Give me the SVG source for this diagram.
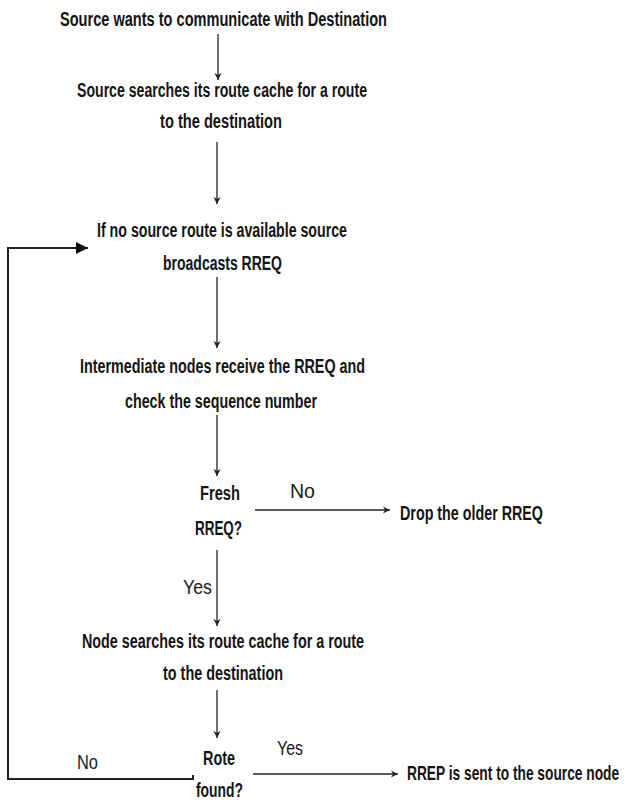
<svg xmlns="http://www.w3.org/2000/svg" width="626" height="801" viewBox="0 0 626 801">
<style>
text{font-family:"Liberation Sans",Arial,sans-serif;font-size:20px;font-weight:bold;fill:#141414}
text.lbl{font-weight:normal;font-size:21px;fill:#1a1a1a}
.c{stroke:#222;stroke-width:1.3;fill:none}
.loop{stroke:#222;stroke-width:2;fill:none}
</style>
<defs>
<marker id="a" viewBox="0 0 10 10" refX="10" refY="5" markerWidth="7" markerHeight="8" markerUnits="userSpaceOnUse" orient="auto">
<path d="M0,0 L10,5 L0,10 L3,5 Z" fill="#222"/>
</marker>
<marker id="b" viewBox="0 0 10 10" refX="10" refY="5" markerWidth="12" markerHeight="12" markerUnits="userSpaceOnUse" orient="auto">
<path d="M0,0 L10,5 L0,10 Z" fill="#111"/>
</marker>
</defs>
<rect width="626" height="801" fill="#fff"/>
<g id="connectors">
<line class="c" x1="218" y1="34" x2="218" y2="80" marker-end="url(#a)"/>
<line class="c" x1="217" y1="142" x2="217" y2="204" marker-end="url(#a)"/>
<line class="c" x1="217" y1="277" x2="217" y2="348" marker-end="url(#a)"/>
<line class="c" x1="217" y1="415" x2="217" y2="476" marker-end="url(#a)"/>
<line class="c" x1="255" y1="510" x2="390" y2="510" marker-end="url(#a)"/>
<line class="c" x1="217" y1="550" x2="217" y2="626" marker-end="url(#a)"/>
<line class="c" x1="217" y1="690" x2="217" y2="738" marker-end="url(#a)"/>
<line class="c" x1="253" y1="774" x2="398" y2="774" marker-end="url(#a)"/>
<polyline class="loop" points="193,775 193,779 8,779 8,248 88,248" marker-end="url(#b)"/>
</g>
<g id="n1"><text x="60" y="26" textLength="327" lengthAdjust="spacingAndGlyphs">Source wants to communicate with Destination</text></g>
<g id="n2"><text x="77" y="97" textLength="290" lengthAdjust="spacingAndGlyphs">Source searches its route cache for a route</text>
<text x="160" y="128" textLength="122" lengthAdjust="spacingAndGlyphs">to the destination</text></g>
<g id="n3"><text x="97" y="237" textLength="250" lengthAdjust="spacingAndGlyphs">If no source route is available source</text>
<text x="163" y="270" textLength="119" lengthAdjust="spacingAndGlyphs">broadcasts RREQ</text></g>
<g id="n4"><text x="80" y="373" textLength="285" lengthAdjust="spacingAndGlyphs">Intermediate nodes receive the RREQ and</text>
<text x="125" y="408" textLength="192" lengthAdjust="spacingAndGlyphs">check the sequence number</text></g>
<g id="n5"><text x="200" y="500" textLength="40" lengthAdjust="spacingAndGlyphs">Fresh</text>
<text x="195" y="535" textLength="47" lengthAdjust="spacingAndGlyphs">RREQ?</text></g>
<g id="n6"><text x="400" y="520" textLength="143" lengthAdjust="spacingAndGlyphs">Drop the older RREQ</text></g>
<g id="n7"><text x="82" y="648" textLength="282" lengthAdjust="spacingAndGlyphs">Node searches its route cache for a route</text>
<text x="163" y="680" textLength="120" lengthAdjust="spacingAndGlyphs">to the destination</text></g>
<g id="n8"><text x="203" y="765" textLength="32" lengthAdjust="spacingAndGlyphs">Rote</text>
<text x="196" y="797" textLength="47" lengthAdjust="spacingAndGlyphs">found?</text></g>
<g id="n9"><text transform="translate(407,780) scale(0.7,1)" x="0" y="0" textLength="303" lengthAdjust="spacingAndGlyphs">RREP is sent to the source node</text></g>
<g id="labels">
<text class="lbl" x="290" y="498" textLength="25" lengthAdjust="spacingAndGlyphs">No</text>
<text class="lbl" x="183" y="594" textLength="29" lengthAdjust="spacingAndGlyphs">Yes</text>
<text class="lbl" x="77" y="769" textLength="21" lengthAdjust="spacingAndGlyphs">No</text>
<text class="lbl" x="277" y="755" textLength="26" lengthAdjust="spacingAndGlyphs">Yes</text>
</g>
</svg>
